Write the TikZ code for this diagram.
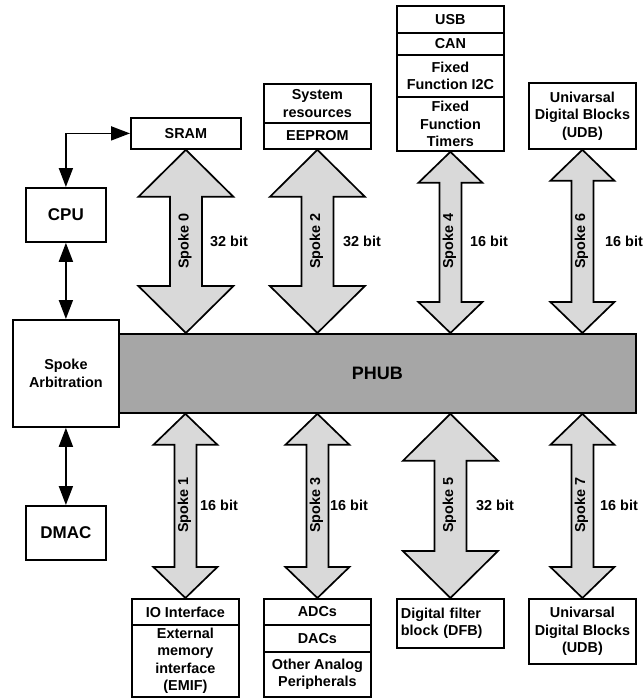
\documentclass[tikz,border=0pt]{standalone}
\usepackage{fontspec}
\setmainfont{Liberation Sans}
\usetikzlibrary{arrows.meta,calc}
\definecolor{hubgray}{HTML}{A6A6A6}
\definecolor{spokegray}{HTML}{D9D9D9}
\newcommand{\bigspoke}[5]{%
  \draw[spokestyle] let \p1=(#1), \p2=(#2) in
    (\x1,\y1) -- (\x1+#3,\y1-#5) -- (\x1+#4,\y1-#5) -- (\x1+#4,\y2+#5)
    -- (\x1+#3,\y2+#5) -- (\x2,\y2) -- (\x1-#3,\y2+#5) -- (\x1-#4,\y2+#5)
    -- (\x1-#4,\y1-#5) -- (\x1-#3,\y1-#5) -- cycle;}
\tikzset{
  cell/.style={draw, line width=1.8pt, anchor=north west, inner sep=0pt,
    align=center, font=\fontsize{14.4}{17.5}\selectfont\bfseries},
  bigcell/.style={cell, font=\fontsize{17}{20}\selectfont\bfseries},
  spokestyle/.style={draw, line width=1.7pt, fill=spokegray, line join=miter},
  spokelabel/.style={rotate=90, font=\fontsize{14.4}{17}\selectfont\bfseries, inner sep=0pt},
  bitlabel/.style={anchor=west, font=\fontsize{14.4}{17}\selectfont\bfseries, inner sep=0pt},
  link/.style={line width=1.8pt, {Triangle[length=19pt,width=14pt]}-{Triangle[length=19pt,width=14pt]}}
}
\begin{document}
\begin{tikzpicture}[x=1pt,y=-1pt]
\useasboundingbox (0,0) rectangle (644,698);
% left column
\node[bigcell, minimum width=80pt, minimum height=54pt] (cpu) at (25,187) {CPU};
\node[cell, minimum width=106pt, minimum height=107pt] (arb) at (12,319) {Spoke\\Arbitration};
\node[bigcell, minimum width=80pt, minimum height=54pt] (dmac) at (25,505) {DMAC};
% hub
\node[draw, line width=1.8pt, fill=hubgray, anchor=north west, minimum width=517pt,
  minimum height=79pt, inner sep=0pt, font=\fontsize{18}{20}\selectfont\bfseries] (phub) at (118,333) {PHUB};
% top boxes
\node[cell, minimum width=110pt, minimum height=31pt] (sram) at (130,117) {SRAM};
\node[cell, minimum width=107pt, minimum height=39pt] (sys) at (263,83) {System\\resources};
\node[cell, minimum width=107pt, minimum height=26pt] (eeprom) at (263,122) {EEPROM};
\node[cell, minimum width=107pt, minimum height=27pt] (usb) at (396,5) {USB};
\node[cell, minimum width=107pt, minimum height=22pt] (can) at (396,32) {CAN};
\node[cell, minimum width=107pt, minimum height=42pt] (i2c) at (396,54) {Fixed\\Function I2C};
\node[cell, minimum width=107pt, minimum height=54pt] (timers) at (396,96) {Fixed\\Function\\Timers};
\node[cell, minimum width=107pt, minimum height=66pt] (udbtop) at (528,82) {Univarsal\\Digital Blocks\\(UDB)};
% bottom boxes
\node[cell, minimum width=107pt, minimum height=26pt] (io) at (131,598) {IO Interface};
\node[cell, minimum width=107pt, minimum height=72pt] (emif) at (131,624) {External\\memory\\interface\\(EMIF)};
\node[cell, minimum width=107pt, minimum height=26pt] (adc) at (263,598) {ADCs};
\node[cell, minimum width=107pt, minimum height=27pt] (dac) at (263,624) {DACs};
\node[cell, minimum width=107pt, minimum height=45pt] (analog) at (263,651) {Other Analog\\Peripherals};
\node[cell, minimum width=107pt, minimum height=49pt, align=left, text width=99pt] (dfb) at (396,598) {Digital filter\\block (DFB)};
\node[cell, minimum width=107pt, minimum height=65pt] (udbbot) at (528,598) {Univarsal\\Digital Blocks\\(UDB)};
% thin links
\draw[link] (cpu.north) |- (sram.west);
\draw[link] (cpu.south) -- (arb.north);
\draw[link] (arb.south) -- (dmac.north);
% spokes
\bigspoke{sram.south}{sram.south |- phub.north}{47.5}{16}{47}
\bigspoke{eeprom.south}{eeprom.south |- phub.north}{47.5}{16}{47}
\bigspoke{timers.south}{timers.south |- phub.north}{32}{11}{31}
\bigspoke{udbtop.south}{udbtop.south |- phub.north}{32}{11}{31}
\bigspoke{io.north |- phub.south}{io.north}{32}{11}{31}
\bigspoke{adc.north |- phub.south}{adc.north}{32}{11}{31}
\bigspoke{dfb.north |- phub.south}{dfb.north}{47.5}{16}{47}
\bigspoke{udbbot.north |- phub.south}{udbbot.north}{32}{11}{31}
% spoke labels
\node[spokelabel] (s0) at (185,241) {Spoke 0};
\node[spokelabel] (s2) at (316.5,241) {Spoke 2};
\node[spokelabel] (s4) at (449.5,241) {Spoke 4};
\node[spokelabel] (s6) at (581.5,241) {Spoke 6};
\node[spokelabel] (s1) at (184.5,505) {Spoke 1};
\node[spokelabel] (s3) at (316.5,505) {Spoke 3};
\node[spokelabel] (s5) at (449.5,505) {Spoke 5};
\node[spokelabel] (s7) at (581.5,505) {Spoke 7};
\node[bitlabel] (b0) at (210,241) {32 bit};
\node[bitlabel] (b2) at (343,241) {32 bit};
\node[bitlabel] (b4) at (470,241) {16 bit};
\node[bitlabel] (b6) at (605,241) {16 bit};
\node[bitlabel] (b1) at (200,505) {16 bit};
\node[bitlabel] (b3) at (330,505) {16 bit};
\node[bitlabel] (b5) at (476,505) {32 bit};
\node[bitlabel] (b7) at (600,505) {16 bit};
\end{tikzpicture}
\end{document}
